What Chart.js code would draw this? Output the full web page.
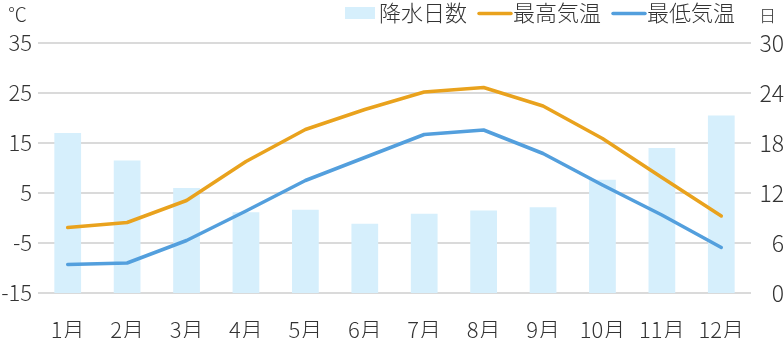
<!DOCTYPE html>
<html lang="ja">
<head>
<meta charset="utf-8">
<script src="https://cdn.jsdelivr.net/npm/chart.js@4/dist/chart.umd.min.js"></script>
<style>
  html, body { margin: 0; padding: 0; background: #fff; overflow: hidden; }
  canvas { display: block; }
</style>
</head>
<body>
<canvas id="c" width="784" height="338"></canvas>
<script>
// 月別の気温と降水日数
const months = ['1月','2月','3月','4月','5月','6月','7月','8月','9月','10月','11月','12月'];
const rainDays = [19.2, 15.9, 12.6, 9.7, 10.0, 8.3, 9.5, 9.9, 10.3, 13.6, 17.4, 21.3];
const highTemp = [-1.9, -0.9, 3.5, 11.3, 17.7, 21.7, 25.2, 26.1, 22.4, 15.9, 8.1, 0.4];
const lowTemp  = [-9.3, -9.0, -4.5, 1.4, 7.5, 12.1, 16.7, 17.6, 12.9, 6.6, 0.6, -5.9];
const tempTicks = [-15, -5, 5, 15, 25, 35];
const dayTicks = [0, 6, 12, 18, 24, 30];

const FONT = '"Noto Sans CJK JP", "Noto Sans", sans-serif';
const W = 300;
const TEXT = '#333333';
const BAR = 'rgb(214,239,252)';
const ORANGE = '#E9A21D';
const BLUE = '#539FDD';

// 凡例と単位ラベルをキャンバスに描く
const legendPlugin = {
  id: 'topLegend',
  afterDraw(chart) {
    const ctx = chart.ctx;
    ctx.save();
    ctx.textBaseline = 'middle';
    ctx.fillStyle = TEXT;

    ctx.font = W + ' 19px ' + FONT;
    ctx.textAlign = 'center';
    ctx.fillText('℃', 17.5, 15);
    ctx.font = W + ' 17px ' + FONT;
    ctx.fillText('日', 767.5, 16);

    ctx.font = W + ' 22px ' + FONT;
    ctx.textAlign = 'left';
    const y = 13;
    let x = 345;
    const items = [
      { text: '降水日数', type: 'box', color: BAR },
      { text: '最高気温', type: 'line', color: ORANGE },
      { text: '最低気温', type: 'line', color: BLUE }
    ];
    items.forEach(it => {
      if (it.type === 'box') {
        ctx.fillStyle = it.color;
        ctx.fillRect(x, y - 6, 30, 12);
        x += 34;
      } else {
        ctx.strokeStyle = it.color;
        ctx.lineWidth = 3.5;
        ctx.lineCap = 'round';
        ctx.beginPath();
        ctx.moveTo(x + 1, y + 0.5);
        ctx.lineTo(x + 33, y + 0.5);
        ctx.stroke();
        x += 35;
      }
      ctx.fillStyle = TEXT;
      ctx.fillText(it.text, x, y);
      x += ctx.measureText(it.text).width + 11;
    });
    ctx.restore();
  }
};

new Chart(document.getElementById('c'), {
  data: {
    labels: months,
    datasets: [
      {
        type: 'bar', label: '降水日数', data: rainDays, yAxisID: 'yDays',
        backgroundColor: BAR, borderWidth: 0,
        barPercentage: 0.45, categoryPercentage: 1.0, order: 2
      },
      {
        type: 'line', label: '最高気温', data: highTemp, yAxisID: 'yTemp',
        borderColor: ORANGE, borderWidth: 3.5, pointRadius: 0, tension: 0,
        fill: false, order: 1, borderCapStyle: 'round', borderJoinStyle: 'round'
      },
      {
        type: 'line', label: '最低気温', data: lowTemp, yAxisID: 'yTemp',
        borderColor: BLUE, borderWidth: 3.5, pointRadius: 0, tension: 0,
        fill: false, order: 1, borderCapStyle: 'round', borderJoinStyle: 'round'
      }
    ]
  },
  options: {
    responsive: false,
    animation: false,
    devicePixelRatio: 1,
    layout: { padding: { top: 43, left: 0, right: 0, bottom: 0 } },
    plugins: { legend: { display: false }, tooltip: { enabled: false } },
    scales: {
      x: {
        grid: { display: false },
        border: { display: false },
        ticks: { color: TEXT, font: { family: FONT, size: 22, weight: W }, padding: 15, maxRotation: 0, autoSkip: false },
        afterFit(s) { s.height = 45; }
      },
      yTemp: {
        position: 'left', min: -15, max: 35,
        afterBuildTicks(s) { s.ticks = tempTicks.map(v => ({ value: v })); },
        grid: { color: '#DADADA', lineWidth: 2, drawTicks: false },
        border: { display: false },
        ticks: { color: TEXT, font: { family: FONT, size: 22, weight: W }, padding: 6 },
        afterFit(s) { s.width = 38; }
      },
      yDays: {
        position: 'right', min: 0, max: 30,
        afterBuildTicks(s) { s.ticks = dayTicks.map(v => ({ value: v })); },
        grid: { display: false, drawTicks: false },
        border: { display: false },
        ticks: { color: TEXT, font: { family: FONT, size: 23, weight: W }, padding: 2, crossAlign: 'far' },
        afterFit(s) { s.width = 33; }
      }
    }
  },
  plugins: [legendPlugin]
});
</script>
</body>
</html>
